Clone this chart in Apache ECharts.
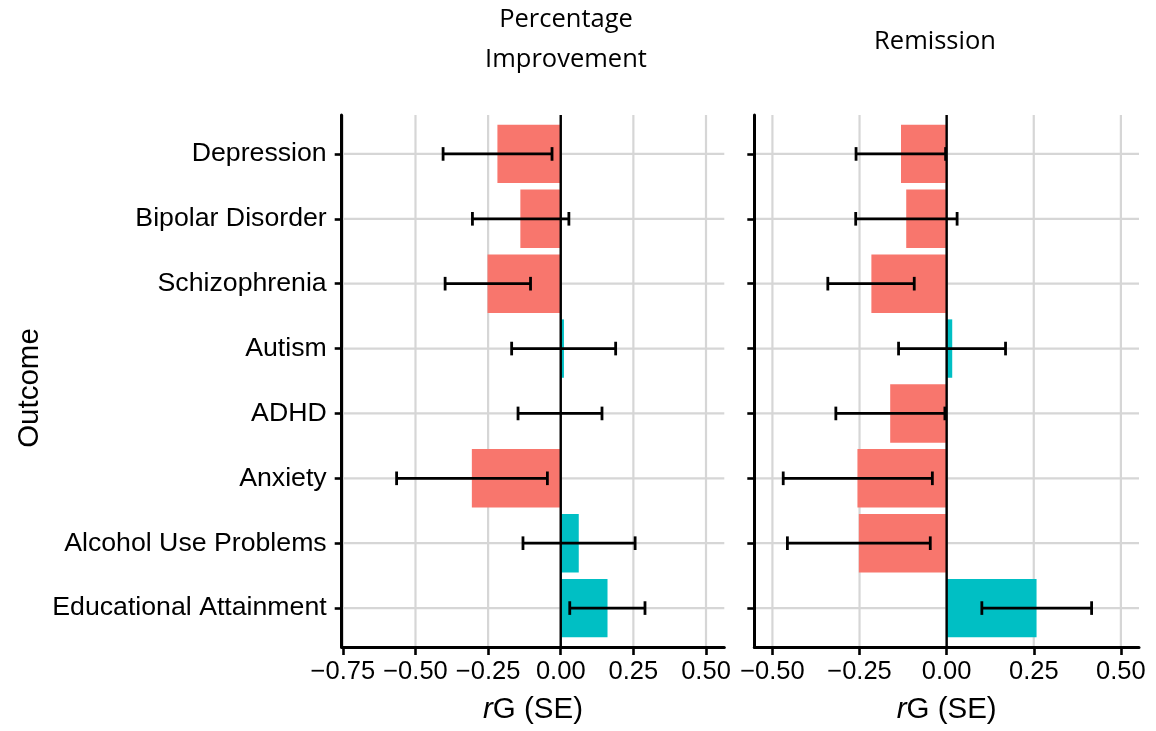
<!DOCTYPE html>
<html>
<head>
<meta charset="utf-8">
<script src="https://cdn.jsdelivr.net/npm/echarts@6/dist/echarts.min.js"></script>
<style>
  html, body { margin: 0; padding: 0; background: #ffffff; }
  #chart { width: 1156px; height: 731px; }
</style>
</head>
<body>
<div id="chart"></div>
<script>
// ---- data ----
const categories = ['Depression', 'Bipolar Disorder', 'Schizophrenia', 'Autism', 'ADHD', 'Anxiety', 'Alcohol Use Problems', 'Educational Attainment'];
const improvementRG = [-0.218, -0.139, -0.252, 0.011, -0.002, -0.306, 0.062, 0.161];
const improvementLow = [-0.405, -0.304, -0.398, -0.169, -0.147, -0.565, -0.130, 0.031];
const improvementHigh = [-0.030, 0.028, -0.104, 0.189, 0.142, -0.046, 0.256, 0.290];
const remissionRG = [-0.131, -0.116, -0.216, 0.016, -0.162, -0.256, -0.252, 0.258];
const remissionLow = [-0.260, -0.261, -0.341, -0.138, -0.318, -0.469, -0.457, 0.101];
const remissionHigh = [-0.003, 0.030, -0.093, 0.169, -0.005, -0.041, -0.047, 0.416];
const panelTitles = ['Percentage\nImprovement', 'Remission'];
const xTicksLeft = [-0.75, -0.5, -0.25, 0, 0.25, 0.5];
const xTicksRight = [-0.5, -0.25, 0, 0.25, 0.5];
const yAxisTitle = 'Outcome';

// ---- styling ----
const NEG = '#F8766D', POS = '#00BFC4';
const GRIDC = '#d6d6d6';
const catIdx = categories.map((c, i) => i + 1);

function fmt(v) {
  return v.toFixed(2).replace('-', '\u2212');
}

function gridLineSeries(axisIndex, ticks) {
  return {
    type: 'custom', xAxisIndex: axisIndex, yAxisIndex: axisIndex, z: 1, silent: true,
    data: ticks.map(v => [v]).concat(catIdx.map(i => [i])),
    renderItem(params, api) {
      const cs = params.coordSys;
      const v = api.value(0);
      const vertical = params.dataIndex < ticks.length;
      let x1, y1, x2, y2;
      if (vertical) {
        const p = api.coord([v, 1]);
        x1 = x2 = p[0]; y1 = cs.y; y2 = cs.y + cs.height;
      } else {
        const p = api.coord([0, v]);
        y1 = y2 = p[1]; x1 = cs.x; x2 = cs.x + cs.width;
      }
      return { type: 'line', shape: { x1, y1, x2, y2 }, style: { stroke: GRIDC, lineWidth: 2.2 } };
    }
  };
}

function barSeries(axisIndex, vals) {
  return {
    type: 'custom', xAxisIndex: axisIndex, yAxisIndex: axisIndex, z: 3, silent: true,
    data: vals.map((v, i) => [v, i + 1]),
    renderItem(params, api) {
      const v = api.value(0), i = api.value(1);
      const p0 = api.coord([0, i]);
      const p1 = api.coord([v, i]);
      const h = api.size([0, 0.9])[1];
      return {
        type: 'rect',
        shape: { x: Math.min(p0[0], p1[0]), y: p0[1] - h / 2, width: Math.abs(p1[0] - p0[0]), height: h },
        style: { fill: v >= 0 ? POS : NEG }
      };
    }
  };
}

function zeroLineSeries(axisIndex) {
  return {
    type: 'custom', xAxisIndex: axisIndex, yAxisIndex: axisIndex, z: 4, silent: true,
    data: [[0, 1]],
    renderItem(params, api) {
      const cs = params.coordSys;
      const p = api.coord([0, 1]);
      return { type: 'line', shape: { x1: p[0], y1: cs.y, x2: p[0], y2: cs.y + cs.height }, style: { stroke: '#000', lineWidth: 2.4 } };
    }
  };
}

function errSeries(axisIndex, lo, hi) {
  return {
    type: 'custom', xAxisIndex: axisIndex, yAxisIndex: axisIndex, z: 5, silent: true,
    data: lo.map((l, i) => [l, hi[i], i + 1]),
    renderItem(params, api) {
      const a = api.coord([api.value(0), api.value(2)]);
      const b = api.coord([api.value(1), api.value(2)]);
      const c = api.size([0, 0.105])[1];
      const st = { stroke: '#000', lineWidth: 2.8 };
      return {
        type: 'group',
        children: [
          { type: 'line', shape: { x1: a[0], y1: a[1], x2: b[0], y2: b[1] }, style: st },
          { type: 'line', shape: { x1: a[0], y1: a[1] - c, x2: a[0], y2: a[1] + c }, style: st },
          { type: 'line', shape: { x1: b[0], y1: b[1] - c, x2: b[0], y2: b[1] + c }, style: st }
        ]
      };
    }
  };
}

function xAxisCfg(gridIndex, min, max, ticks) {
  return {
    type: 'value', gridIndex, min, max, z: 10,
    axisLine: { show: true, onZero: false, lineStyle: { color: '#000', width: 3 } },
    axisTick: { show: true, customValues: ticks, length: 8, lineStyle: { color: '#000', width: 2.6 } },
    axisLabel: { customValues: ticks, formatter: fmt, color: '#000', fontFamily: 'Liberation Sans', fontSize: 25.5, margin: 12 },
    splitLine: { show: false },
    name: '{i|r}G (SE)', nameLocation: 'middle', nameGap: 48,
    nameTextStyle: {
      color: '#000', fontFamily: 'Liberation Sans', fontSize: 29.5,
      rich: { i: { fontStyle: 'italic', fontFamily: 'Liberation Sans', fontSize: 29.5, color: '#000' } }
    }
  };
}

function yAxisCfg(gridIndex, showLabels) {
  return {
    type: 'value', gridIndex, min: 0.4, max: 8.6, inverse: true, z: 10,
    axisLine: { show: true, onZero: false, lineStyle: { color: '#000', width: 3 } },
    axisTick: { show: true, customValues: catIdx, length: 7, lineStyle: { color: '#000', width: 2.6 } },
    axisLabel: {
      show: showLabels, customValues: catIdx,
      formatter: v => categories[Math.round(v) - 1] || '',
      color: '#000', fontFamily: 'Liberation Sans', fontSize: 26.7, margin: 15
    },
    splitLine: { show: false }
  };
}

const chart = echarts.init(document.getElementById('chart'), null, { renderer: 'canvas' });
chart.setOption({
  animation: false,
  backgroundColor: '#ffffff',
  grid: [
    { left: 341.7, top: 115, width: 382.6, height: 532 },
    { left: 754.3, top: 115, width: 384.7, height: 532 }
  ],
  xAxis: [
    xAxisCfg(0, -0.754, 0.563, xTicksLeft),
    xAxisCfg(1, -0.552, 0.552, xTicksRight)
  ],
  yAxis: [yAxisCfg(0, true), yAxisCfg(1, false)],
  graphic: [
    { type: 'text', x: 566, y: 40, style: { text: panelTitles[0], align: 'center', verticalAlign: 'middle', fontFamily: 'Open Sans', fontSize: 25.5, lineHeight: 40, fill: '#000' } },
    { type: 'text', x: 935, y: 42, style: { text: panelTitles[1], align: 'center', verticalAlign: 'middle', fontFamily: 'Open Sans', fontSize: 25.5, fill: '#000' } },
    { type: 'text', x: 30, y: 388, rotation: Math.PI / 2, style: { text: yAxisTitle, align: 'center', verticalAlign: 'middle', fontFamily: 'Liberation Sans', fontSize: 29.5, fill: '#000' } }
  ],
  series: [
    gridLineSeries(0, xTicksLeft),
    gridLineSeries(1, xTicksRight),
    barSeries(0, improvementRG),
    barSeries(1, remissionRG),
    zeroLineSeries(0),
    zeroLineSeries(1),
    errSeries(0, improvementLow, improvementHigh),
    errSeries(1, remissionLow, remissionHigh)
  ]
});
</script>
</body>
</html>
